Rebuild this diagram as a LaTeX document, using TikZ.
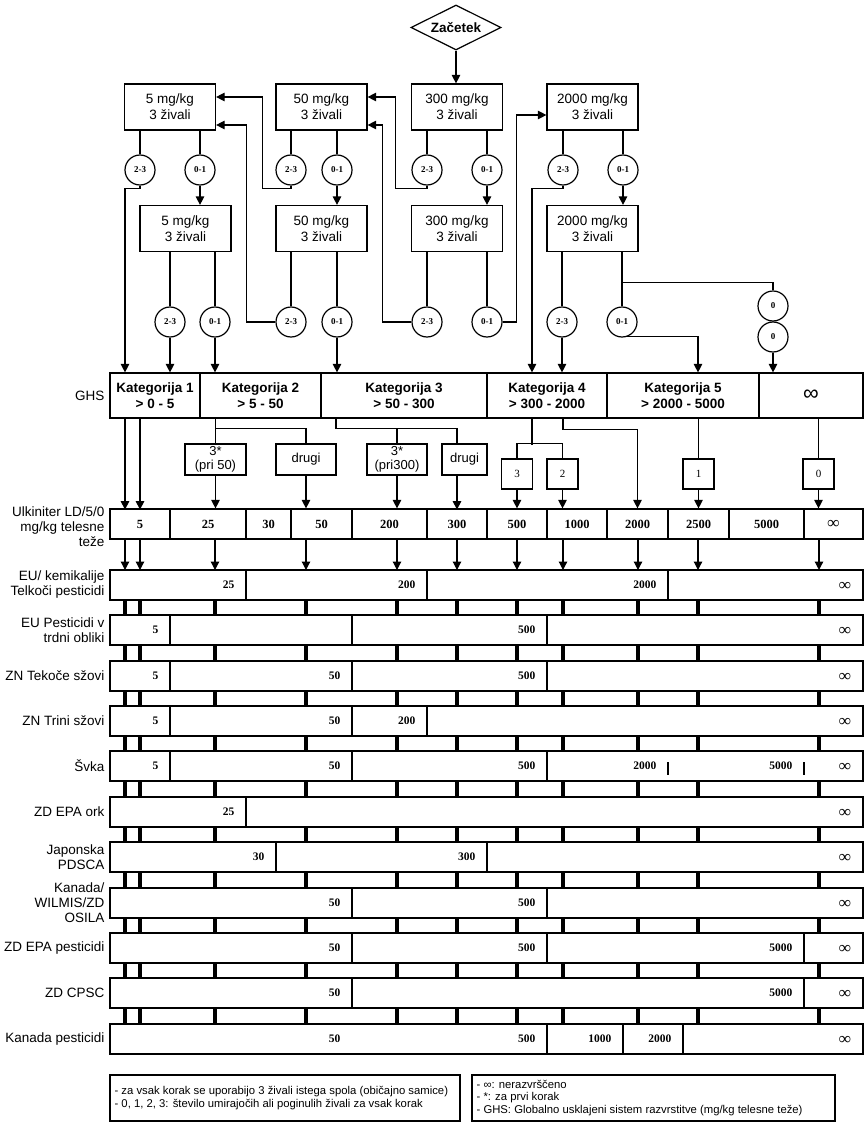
\documentclass[tikz,border=0pt]{standalone}
\usepackage{fontspec}
\setmainfont{Liberation Serif}
\setsansfont{Liberation Sans}
\usetikzlibrary{arrows.meta,shapes.geometric}
\newcommand\trow[3]{%
  \node[rowbox] (#1) at (486.5,#2+15) {};
  \node[rlabel] (#1l) at (105,#2+15) {#3};
  \node[inf] (#1i) at (845,#2+16) {∞};}
\newcommand\tdivs[2]{\foreach \xx in {#2} {\draw (\xx,#1) -- (\xx,#1+30);}}
\newcommand\tnums[2]{\foreach \xx/\lab in {#2} {\node[num,anchor=east] at (\xx-11,#1+15) {\lab};}}
\begin{document}
\begin{tikzpicture}[x=1pt,y=-1pt,line width=1.2pt,
  arr/.style={-{Triangle[width=8.5pt,length=8.5pt]}},
  fbox/.style={draw,align=center,inner sep=0pt,minimum width=91pt,minimum height=46pt,font=\sffamily\fontsize{13.5}{16}\selectfont},
  cnode/.style={draw,circle,inner sep=0pt,minimum size=30pt,font=\bfseries\fontsize{9}{10}\selectfont},
  ghs/.style={draw,align=center,inner sep=0pt,minimum height=45pt,font=\sffamily\bfseries\fontsize{13.5}{16}\selectfont},
  ldc/.style={draw,inner sep=0pt,minimum height=30pt,font=\bfseries\fontsize{12.5}{14}\selectfont},
  sbox/.style={draw,align=center,inner sep=0pt,minimum height=31pt,font=\sffamily\fontsize{13}{13.5}\selectfont},
  nbox/.style={draw,inner sep=0pt,minimum width=31pt,minimum height=30pt,font=\fontsize{11}{12}\selectfont},
  rowbox/.style={draw,inner sep=0pt,minimum width=753pt,minimum height=30pt},
  rlabel/.style={anchor=east,align=right,inner sep=0pt,font=\sffamily\fontsize{13.5}{15}\selectfont},
  num/.style={inner sep=0pt,font=\bfseries\fontsize{11.5}{12}\selectfont},
  inf/.style={inner sep=0pt,font=\bfseries\fontsize{17}{17}\selectfont},
  tick/.style={line width=3.6pt},
  legend/.style={anchor=west,align=left,inner sep=0pt,font=\sffamily\fontsize{11.3}{12.7}\selectfont}]
\fill[white] (0,0) rectangle (866,1134);
\useasboundingbox (0,0) rectangle (866,1134);

% ---------- start ----------
\node[draw,diamond,aspect=2,minimum width=90pt,minimum height=45pt,inner sep=0pt,
  font=\sffamily\bfseries\fontsize{13.5}{16}\selectfont] (start) at (456,27.5) {Začetek};

% ---------- dose boxes ----------
\node[fbox] (b5a) at (170,107) {5 mg/kg\\3 živali};
\node[fbox] (b50a) at (321.5,107) {50 mg/kg\\3 živali};
\node[fbox] (b300a) at (457,107) {300 mg/kg\\3 živali};
\node[fbox] (b2000a) at (592.5,107) {2000 mg/kg\\3 živali};
\node[fbox] (b5b) at (185.5,228.5) {5 mg/kg\\3 živali};
\node[fbox] (b50b) at (321.5,228.5) {50 mg/kg\\3 živali};
\node[fbox] (b300b) at (457,228.5) {300 mg/kg\\3 živali};
\node[fbox] (b2000b) at (592.5,228.5) {2000 mg/kg\\3 živali};

% ---------- circles ----------
\foreach \nm/\xx/\lab in {c5a23/140/2-3, c5a01/200/0-1, c50a23/291/2-3, c50a01/337/0-1,
   c300a23/427/2-3, c300a01/487/0-1, c2000a23/563/2-3, c2000a01/623/0-1}
  \node[cnode] (\nm) at (\xx,170) {\lab};
\foreach \nm/\xx/\lab in {c5b23/170/2-3, c5b01/215/0-1, c50b23/291/2-3, c50b01/337/0-1,
   c300b23/427/2-3, c300b01/487/0-1, c2000b23/562/2-3, c2000b01/622/0-1}
  \node[cnode] (\nm) at (\xx,322) {\lab};
\node[cnode] (z1) at (773,306) {0};
\node[cnode] (z2) at (773,337) {0};

% ---------- GHS row ----------
\node[rlabel] (ghsl) at (105,395.5) {GHS};
\node[ghs,minimum width=90pt] (g1) at (155,395.5) {Kategorija 1\\> 0 - 5};
\node[ghs,minimum width=121pt] (g2) at (260.5,395.5) {Kategorija 2\\> 5 - 50};
\node[ghs,minimum width=166pt] (g3) at (404,395.5) {Kategorija 3\\> 50 - 300};
\node[ghs,minimum width=120pt] (g4) at (547,395.5) {Kategorija 4\\> 300 - 2000};
\node[ghs,minimum width=152pt] (g5) at (683,395.5) {Kategorija 5\\> 2000 - 5000};
\node[ghs,minimum width=104pt,font=\sffamily\fontsize{22}{22}\selectfont] (g6) at (811,395.5) {∞};

% ---------- small boxes ----------
\node[sbox,minimum width=61pt] (p50) at (215.5,459.5) {3*\\(pri 50)};
\node[sbox,minimum width=60pt] (d1) at (306,459.5) {drugi};
\node[sbox,minimum width=60pt] (p300) at (397,459.5) {3*\\(pri300)};
\node[sbox,minimum width=45pt] (d2) at (464.5,459.5) {drugi};
\node[nbox] (nb3) at (517,474) {3};
\node[nbox] (nb2) at (562.5,474) {2};
\node[nbox] (nb1) at (698.5,474) {1};
\node[nbox] (nb0) at (818.5,474) {0};

% ---------- LD50 row ----------
\node[rlabel] (ldl) at (105,527) {Ulkiniter LD/5/0\\mg/kg telesne\\teže};
\foreach \nm/\xx/\ww/\lab in {ld1/140/60/5, ld2/208/76/25, ld3/268.5/45/30, ld4/321.5/61/50,
   ld5/389.5/75/200, ld6/457/60/300, ld7/517/60/500, ld8/577/60/1000, ld9/637.5/61/2000,
   ld10/698.5/61/2500, ld11/766.5/75/5000}
  \node[ldc,minimum width=\ww pt] (\nm) at (\xx,524) {\lab};
\node[ldc,minimum width=59pt,font=\bfseries\fontsize{17}{17}\selectfont] (ld12) at (833.5,524) {∞};

% ---------- connectors, top ----------
\draw[arr] (start.south) -- (start.south |- b300a.north);
\foreach \bx/\c in {b5a/c5a23, b5a/c5a01, b50a/c50a23, b50a/c50a01, b300a/c300a23, b300a/c300a01,
   b2000a/c2000a23, b2000a/c2000a01, b5b/c5b23, b5b/c5b01, b50b/c50b23, b50b/c50b01,
   b300b/c300b23, b300b/c300b01, b2000b/c2000b23, b2000b/c2000b01}
  \draw (\c.north |- \bx.south) -- (\c.north);
\foreach \c/\bx in {c5a01/b5b, c50a01/b50b, c300a01/b300b, c2000a01/b2000b}
  \draw[arr] (\c.south) -- (\c.south |- \bx.north);
\draw[arr] (c50a23.south) -- ++(0,3) -| ([xshift=46pt,yshift=10pt]b5a.east) -- ([yshift=10pt]b5a.east);
\draw[arr] (c300a23.south) -- ++(0,3) -| ([xshift=28pt,yshift=10pt]b50a.east) -- ([yshift=10pt]b50a.east);
\draw[arr] (c50b23.west) -| ([xshift=30pt,yshift=-18pt]b5a.east) -- ([yshift=-18pt]b5a.east);
\draw[arr] (c300b23.west) -| ([xshift=15pt,yshift=-18pt]b50a.east) -- ([yshift=-18pt]b50a.east);
\draw[arr] (c300b01.east) -| ([xshift=-30pt,yshift=-8pt]b2000a.west) -- ([yshift=-8pt]b2000a.west);
\draw[arr] (c5a23.south) -- ++(0,3) -| ([xshift=-30pt]g1.north);
\draw[arr] (c2000a23.south) -- ++(0,3) -| ([xshift=-15pt]g4.north);
\foreach \c/\g in {c5b23/g1, c5b01/g2, c50b01/g3, c2000b23/g4}
  \draw[arr] (\c.south) -- (\c.south |- \g.north);
\draw[arr] (c2000b01.-70) -| ([xshift=15pt]g5.north);
\draw (c2000b01.north |- b2000b.south) ++(0,30) -| (z1.north);
\draw[arr] (z2.south) -- (z2.south |- g6.north);

% ---------- connectors, GHS to LD ----------
\draw[arr] ([xshift=-30pt]g1.south) -- ++(0,91);
\draw[arr] ([xshift=-15pt]g1.south) -- ++(0,91);
\draw (p50.north) -- (p50.north |- g2.south);
\draw (p50.north) ++(0,-15) -| (d1.north);
\draw ([xshift=-68pt]g3.south) |- ([xshift=-7.5pt,yshift=15pt]d2.north) -- ([xshift=-7.5pt]d2.north);
\draw (p300.north) -- ++(0,-15);
\draw ([xshift=-15pt]g4.south) -- ++(0,26);
\draw (nb3.north) -- ++(0,-15) -| (nb2.north);
\draw[arr] ([xshift=16pt]g4.south) -- ++(0,11) -| (ld9.north);
\draw (nb1.north |- g5.south) -- (nb1.north);
\draw (nb0.north |- g6.south) -- (nb0.north);
\foreach \bx/\l in {p50/ld2, d1/ld4, p300/ld5, nb3/ld7, nb2/ld8, nb1/ld10, nb0/ld12}
  \draw[arr] (\bx.south) -- (\bx.south |- \l.north);
\draw[arr] ([xshift=-7.5pt]d2.south) -- ++(0,34);

% ---------- LD to table ----------
\foreach \c in {125,140,215,306,397,457,517,563,638,698,819}
  \draw[arr] (\c,539) -- (\c,570);
\foreach \a/\b in {600/615,645/661,691/706,736/751,781/797,827/842,872/888,918/933,963/978,1008/1024}
  \foreach \c in {125,140,215,306,397,457,517,563,638,698,819}
    \draw[tick] (\c,\a) -- (\c,\b);

% ---------- table rows ----------
\trow{r1}{570}{EU/ kemikalije\\Telkoči pesticidi}
\tdivs{570}{246,427,668}
\tnums{570}{246/25,427/200,668/2000}

\trow{r2}{615}{EU Pesticidi v\\trdni obliki}
\tdivs{615}{170,352,547}
\tnums{615}{170/5,547/500}

\trow{r3}{661}{ZN Tekoče sžovi}
\tdivs{661}{170,352,547}
\tnums{661}{170/5,352/50,547/500}

\trow{r4}{706}{ZN Trini sžovi}
\tdivs{706}{170,352,427}
\tnums{706}{170/5,352/50,427/200}

\trow{r5}{751}{Švka}
\tdivs{751}{170,352,547}
\tnums{751}{170/5,352/50,547/500,668/2000,804/5000}
\foreach \xx in {668,804} \draw (\xx,762) -- (\xx,775);

\trow{r6}{797}{ZD EPA ork}
\tdivs{797}{246}
\tnums{797}{246/25}

\trow{r7}{842}{Japonska\\PDSCA}
\tdivs{842}{276,487}
\tnums{842}{276/30,487/300}

\trow{r8}{888}{Kanada/\\WILMIS/ZD\\OSILA}
\tdivs{888}{352,547}
\tnums{888}{352/50,547/500}

\trow{r9}{933}{ZD EPA pesticidi}
\tdivs{933}{352,547,804}
\tnums{933}{352/50,547/500,804/5000}

\trow{r10}{978}{ZD CPSC}
\tdivs{978}{352,804}
\tnums{978}{352/50,804/5000}

\trow{r11}{1024}{Kanada pesticidi}
\tdivs{1024}{547,623,683}
\tnums{1024}{352/50,547/500,623/1000,683/2000}

% ---------- legend ----------
\node[draw,minimum width=350pt,minimum height=46pt,inner sep=0pt] (leg1) at (285,1098) {};
\node[legend] (leg1t) at (114,1098) {- za vsak korak se uporabijo 3 živali istega spola (običajno samice)\\- 0, 1, 2, 3: število umirajočih ali poginulih živali za vsak korak};
\node[draw,minimum width=363pt,minimum height=46pt,inner sep=0pt] (leg2) at (653.5,1098) {};
\node[legend] (leg2t) at (476,1098) {- ∞: nerazvrščeno\\- *: za prvi korak\\- GHS: Globalno usklajeni sistem razvrstitve (mg/kg telesne teže)};
\end{tikzpicture}
\end{document}
